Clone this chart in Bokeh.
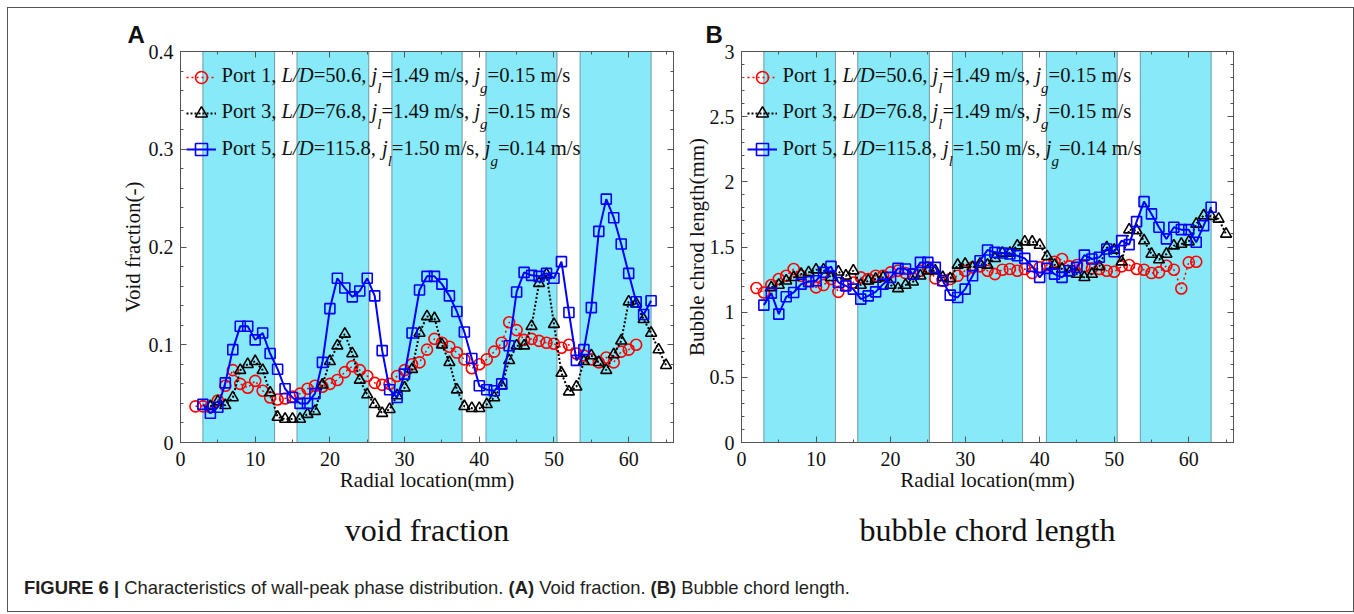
from bokeh.plotting import figure
from bokeh.models import (Range1d, LinearAxis, FixedTicker, CustomJSTickFormatter, Label,
                          Legend, LegendItem, Div, Title)
from bokeh.layouts import row, column
from bokeh.embed import file_html
from bokeh.resources import INLINE
from bokeh.core.properties import value

# ---------------- data ----------------
x_port1 = list(range(2, 62))
x_port3 = list(range(4, 66))
x_port5 = list(range(3, 64))

void_port1 = [0.037, 0.037, 0.036, 0.043, 0.058, 0.074, 0.060, 0.056, 0.063, 0.053,
              0.046, 0.044, 0.045, 0.047, 0.050, 0.055, 0.058, 0.057, 0.060, 0.064,
              0.072, 0.078, 0.074, 0.068, 0.061, 0.059, 0.060, 0.068, 0.074, 0.080,
              0.082, 0.095, 0.106, 0.102, 0.098, 0.092, 0.085, 0.076, 0.080, 0.085,
              0.093, 0.102, 0.123, 0.115, 0.105, 0.106, 0.104, 0.102, 0.101, 0.097,
              0.100, 0.091, 0.089, 0.085, 0.082, 0.087, 0.082, 0.093, 0.095, 0.100]
void_port3 = [0.037, 0.042, 0.038, 0.046, 0.074, 0.080, 0.083, 0.074, 0.051, 0.026,
              0.024, 0.024, 0.024, 0.029, 0.032, 0.059, 0.083, 0.099, 0.111, 0.091,
              0.064, 0.049, 0.039, 0.030, 0.034, 0.048, 0.056, 0.075, 0.112, 0.129,
              0.127, 0.100, 0.082, 0.054, 0.037, 0.035, 0.035, 0.039, 0.046, 0.058,
              0.084, 0.099, 0.099, 0.119, 0.163, 0.172, 0.121, 0.071, 0.052, 0.057,
              0.083, 0.089, 0.082, 0.074, 0.090, 0.104, 0.144, 0.142, 0.126, 0.112,
              0.095, 0.079]
void_port5 = [0.039, 0.030, 0.036, 0.061, 0.095, 0.119, 0.119, 0.105, 0.112, 0.091,
              0.075, 0.055, 0.046, 0.040, 0.040, 0.050, 0.082, 0.137, 0.168, 0.158,
              0.149, 0.155, 0.168, 0.150, 0.094, 0.054, 0.046, 0.070, 0.112, 0.156,
              0.170, 0.170, 0.162, 0.150, 0.134, 0.113, 0.086, 0.058, 0.054, 0.053,
              0.060, 0.099, 0.154, 0.174, 0.171, 0.170, 0.173, 0.168, 0.185, 0.133,
              0.084, 0.095, 0.138, 0.216, 0.249, 0.230, 0.203, 0.173, 0.144, 0.131,
              0.145]

chord_port1 = [1.185, 1.151, 1.208, 1.254, 1.279, 1.331, 1.279, 1.241, 1.190, 1.208,
               1.254, 1.156, 1.208, 1.228, 1.267, 1.254, 1.279, 1.279, 1.305, 1.318,
               1.300, 1.292, 1.318, 1.344, 1.259, 1.241, 1.254, 1.279, 1.318, 1.344,
               1.351, 1.318, 1.292, 1.326, 1.331, 1.318, 1.331, 1.300, 1.344, 1.362,
               1.387, 1.408, 1.351, 1.362, 1.351, 1.336, 1.331, 1.318, 1.310, 1.351,
               1.362, 1.331, 1.326, 1.300, 1.305, 1.356, 1.326, 1.182, 1.382, 1.387]
chord_port3 = [1.190, 1.208, 1.241, 1.267, 1.292, 1.305, 1.326, 1.326, 1.267, 1.310,
               1.279, 1.318, 1.208, 1.241, 1.254, 1.267, 1.208, 1.182, 1.208, 1.233,
               1.279, 1.318, 1.318, 1.267, 1.259, 1.362, 1.369, 1.344, 1.369, 1.362,
               1.413, 1.454, 1.454, 1.510, 1.541, 1.541, 1.515, 1.428, 1.362, 1.331,
               1.305, 1.292, 1.267, 1.292, 1.351, 1.497, 1.477, 1.387, 1.633, 1.626,
               1.549, 1.446, 1.403, 1.446, 1.510, 1.523, 1.541, 1.677, 1.741, 1.736,
               1.715, 1.600]
chord_port5 = [1.054, 1.146, 0.985, 1.118, 1.151, 1.215, 1.233, 1.241, 1.305, 1.351,
               1.228, 1.202, 1.177, 1.100, 1.125, 1.156, 1.215, 1.267, 1.336, 1.331,
               1.292, 1.382, 1.382, 1.344, 1.241, 1.131, 1.113, 1.177, 1.279, 1.395,
               1.477, 1.459, 1.454, 1.446, 1.433, 1.413, 1.351, 1.267, 1.336, 1.292,
               1.267, 1.318, 1.344, 1.438, 1.408, 1.421, 1.485, 1.464, 1.549, 1.518,
               1.695, 1.848, 1.754, 1.651, 1.562, 1.651, 1.633, 1.633, 1.536, 1.664,
               1.805]

band_left = [3.0, 15.6, 28.3, 40.9, 53.5]
band_right = [12.6, 25.2, 37.7, 50.4, 63.0]

x_ticks = [0, 10, 20, 30, 40, 50, 60]
void_ticks = [0, 0.1, 0.2, 0.3, 0.4]
chord_ticks = [0, 0.5, 1, 1.5, 2, 2.5, 3]

# legend text runs: (text, italic, subscript)
legend_runs = [
    [("Port 1, ", 0, 0), ("L/D", 1, 0), ("=50.6, ", 0, 0), ("j", 1, 0), ("l", 1, 1),
     ("=1.49 m/s, ", 0, 0), ("j", 1, 0), ("g", 1, 1), (" =0.15 m/s", 0, 0)],
    [("Port 3, ", 0, 0), ("L/D", 1, 0), ("=76.8, ", 0, 0), ("j", 1, 0), ("l", 1, 1),
     ("=1.49 m/s, ", 0, 0), ("j", 1, 0), ("g", 1, 1), (" =0.15 m/s", 0, 0)],
    [("Port 5, ", 0, 0), ("L/D", 1, 0), ("=115.8, ", 0, 0), ("j", 1, 0), ("l", 1, 1),
     ("=1.50 m/s, ", 0, 0), ("j", 1, 0), ("g", 1, 1), (" =0.14 m/s", 0, 0)],
]

# ---------------- style ----------------
SERIF = "Liberation Serif"
CYAN = "#88e9f8"
BAND_EDGE = "#6f9aa3"
AX = "#555555"
XMAX = 66
H = 569
FRAME_H = 391
TOP = 43
LEG_FS = 20.6
SUB_FS = 15
TIMES = {' ': 250, ',': 250, '.': 250, '/': 278, '=': 564, 'P': 556, 'o': 500, 'r': 333,
         't': 278, 'm': 778, 's': 389, 'L': 611, 'D': 722, 'j': 278, 'l': 278, 'g': 500}
TIMES_I = {'L': 556, '/': 278, 'D': 722, 'j': 278, 'l': 278, 'g': 500}


def twidth(s, size, italic):
    tab = TIMES_I if italic else TIMES
    return sum((tab.get(c, TIMES.get(c, 500))) for c in s) * size / 1000.0


def fmt_num():
    return CustomJSTickFormatter(code="return (Math.round(tick*1000)/1000).toString();")


def make_panel(width, min_left, min_right, ymax, yticks, yminor, ylabel, xs, ys,
               letter, letter_dx, title, ylab_standoff):
    p = figure(width=width, height=H, x_range=Range1d(0, XMAX), y_range=Range1d(0, ymax),
               output_backend="svg", toolbar_location=None,
               min_border_left=min_left, min_border_right=min_right,
               min_border_top=TOP, min_border_bottom=H - TOP - FRAME_H)
    p.xgrid.visible = False
    p.ygrid.visible = False
    p.outline_line_color = AX
    p.outline_line_width = 1
    p.background_fill_color = "white"
    p.border_fill_color = "white"

    # panel letter as the figure title (above, left)
    p.title.text = letter
    p.title.align = "left"
    p.title.offset = letter_dx
    p.title.standoff = 7
    p.title.text_font = "Liberation Sans"
    p.title.text_font_size = "24px"
    p.title.text_font_style = "bold"
    p.title.text_color = "#111111"

    xminor = [v + 5 for v in x_ticks]
    p.xaxis.ticker = FixedTicker(ticks=x_ticks, minor_ticks=xminor)
    p.yaxis.ticker = FixedTicker(ticks=yticks, minor_ticks=yminor)
    p.yaxis.formatter = fmt_num()
    p.xaxis.axis_label = "Radial location(mm)"
    p.yaxis.axis_label = ylabel
    for ax in p.xaxis + p.yaxis:
        ax.major_tick_in = 6
        ax.major_tick_out = 0
        ax.minor_tick_in = 3
        ax.minor_tick_out = 0
        ax.axis_line_color = AX
        ax.major_tick_line_color = AX
        ax.minor_tick_line_color = AX
        ax.major_label_text_font = SERIF
        ax.major_label_text_font_size = "20px"
        ax.major_label_text_color = "#111111"
        ax.axis_label_text_font = SERIF
        ax.axis_label_text_font_size = "21px"
        ax.axis_label_text_font_style = "normal"
        ax.axis_label_text_color = "#111111"
    p.xaxis.major_label_standoff = 9
    p.xaxis.axis_label_standoff = -1
    p.yaxis.major_label_standoff = 7
    p.yaxis.axis_label_standoff = ylab_standoff

    # mirrored tick axes (right / top)
    right = LinearAxis(ticker=FixedTicker(ticks=yticks, minor_ticks=yminor),
                       formatter=CustomJSTickFormatter(code="return '';"))
    top = LinearAxis(ticker=FixedTicker(ticks=x_ticks, minor_ticks=xminor),
                     formatter=CustomJSTickFormatter(code="return '';"))
    for ax in (right, top):
        ax.major_tick_in = 6
        ax.major_tick_out = 0
        ax.minor_tick_in = 3
        ax.minor_tick_out = 0
        ax.major_label_standoff = 0
        ax.axis_line_color = AX
        ax.major_tick_line_color = AX
        ax.minor_tick_line_color = AX
    p.add_layout(right, "right")
    p.add_layout(top, "above")

    # sub caption below the x axis
    p.add_layout(Title(text=title, align="center", text_font=SERIF, text_font_size="32px",
                       text_font_style="normal", text_color="#111111", standoff=31),
                 "below")

    # cyan bands
    p.quad(left=band_left, right=band_right, bottom=0, top=ymax,
           fill_color=CYAN, line_color=BAND_EDGE, line_width=1)

    # series
    styles = [("#ff0000", "2 3", 1.5, "circle", 11),
              ("#000000", "2 2", 2.0, "triangle", 11),
              ("#0000ff", "solid", 2.0, "square", 10)]
    items = []
    for (x, y), (col, dash, lw, mk, sz) in zip(zip(xs, ys), styles):
        lr = p.line(x, y, line_color=col, line_dash=dash, line_width=lw)
        sr = p.scatter(x, y, marker=mk, size=sz, line_color=col, fill_color=None,
                       line_width=1.6)
        items.append(LegendItem(label=value(""), renderers=[lr, sr]))
    leg = Legend(items=items, location=(6, FRAME_H - 9 - 106), margin=0, padding=0,
                 spacing=2, glyph_width=30, glyph_height=34, label_height=34,
                 label_width=0, label_standoff=0, background_fill_alpha=0,
                 border_line_alpha=0)
    p.add_layout(leg)

    # rich legend text
    for i, runs in enumerate(legend_runs):
        xpx = 41.0
        base = 23 + 36.5 * i
        for txt, it, sub in runs:
            size = SUB_FS if sub else LEG_FS
            lab = Label(x=0, y=ymax, x_offset=xpx, y_offset=-(base + (13 if sub else 0)),
                        text=txt, text_font=SERIF, text_font_size=f"{size}px",
                        text_font_style="italic" if it else "normal",
                        text_color="#111111", text_baseline="alphabetic", text_align="left")
            p.add_layout(lab)
            xpx += twidth(txt, size, it)
    return p


void_minor = [round(0.02 * k, 2) for k in range(21) if k % 5]
chord_minor = [round(0.1 * k, 1) for k in range(31) if k % 5]

pA = make_panel(671, 172, 6, 0.4, void_ticks, void_minor, "Void fraction(-)",
                [x_port1, x_port3, x_port5], [void_port1, void_port3, void_port5],
                "A", -53, "void fraction", 1)
pB = make_panel(664, 62, 110, 3, chord_ticks, chord_minor, "Bubble chrod length(mm)",
                [x_port1, x_port3, x_port5], [chord_port1, chord_port3, chord_port5],
                "B", -36, "bubble chord length", -2)

cap = Div(text='<div style="padding-left:11px;margin-top:-6px;font-family:\'Liberation Sans\',Arial,sans-serif;'
               'font-size:18.4px;line-height:22px;color:#231f20;white-space:nowrap;">'
               '<b>FIGURE 6 |</b> Characteristics of wall-peak phase distribution. '
               '<b>(A)</b> Void fraction. <b>(B)</b> Bubble chord length.</div>',
          width=1335, height=24)

root = column(row(pA, pB), cap,
              styles={"border": "1px solid #555555", "margin-left": "7px", "margin-top": "7px"})

with open("out.html", "w") as f:
    f.write(file_html(root, INLINE))
